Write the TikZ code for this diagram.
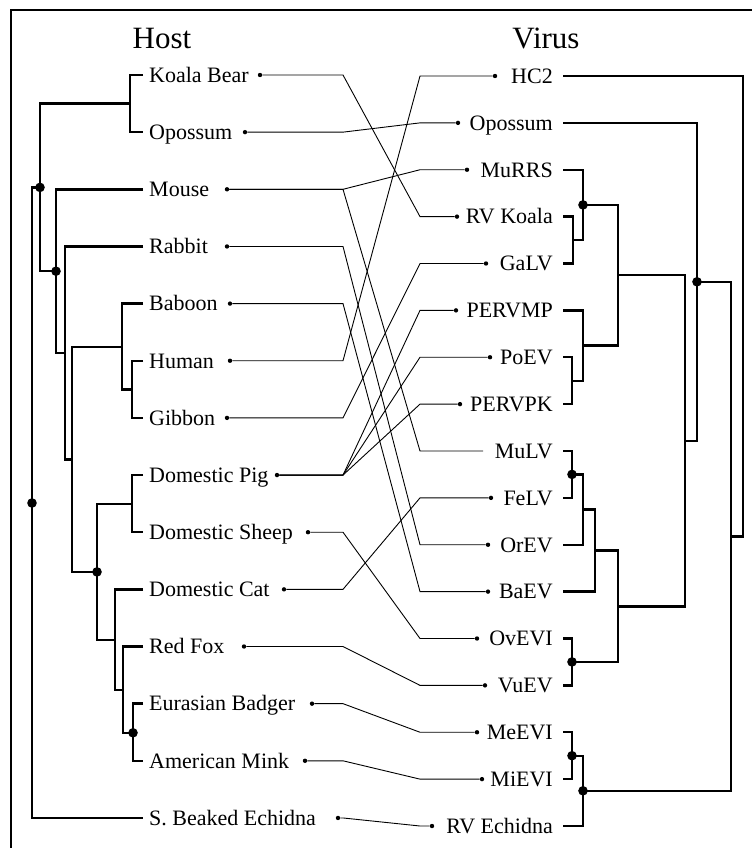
\documentclass[tikz,border=0pt]{standalone}
\usepackage{fontspec}
\setmainfont{Liberation Serif}
\usepackage{tikz}
\tikzset{
  host label/.style={
    anchor=west,
    inner sep=0pt,
    font=\fontsize{22}{26}\selectfont,
    text height=14.6pt,
    text depth=0pt
  },
  virus label/.style={
    anchor=east,
    inner sep=0pt,
    font=\fontsize{22}{26}\selectfont,
    text height=14.6pt,
    text depth=0pt
  },
  column title/.style={
    inner sep=0pt,
    font=\fontsize{31}{36}\selectfont,
    text height=20.4pt,
    text depth=0pt
  },
  branch/.style={
    line width=2.4pt
  },
  link/.style={
    line width=0.9pt
  },
  leaf dot/.style={
    circle,
    fill,
    inner sep=0pt,
    minimum size=4.4pt
  },
  frame line/.style={
    line width=2.2pt
  }
}
\newcommand{\clade}[3]{%
  \draw[branch] (#2) -| (#1) |- (#3);
}
\newcommand{\knot}[1]{%
  \fill (#1) circle[radius=4.8pt];
}

\begin{document}
\begin{tikzpicture}[x=1pt,y=-1pt]
  \useasboundingbox (0,0) rectangle (752,848);
  \draw[frame line] (11,848) -- (11,10) -- (752,10);

  \node[column title] (host title) at (162,38) {Host};
  \node[column title] (virus title) at (546,38) {Virus};

  \foreach \i/\name in {1/Koala Bear,2/Opossum,3/Mouse,4/Rabbit,5/Baboon,
      6/Human,7/Gibbon,8/Domestic Pig,9/Domestic Sheep,10/Domestic Cat,
      11/Red Fox,12/Eurasian Badger,13/American Mink,14/S. Beaked Echidna}{
    \node[host label] (h-\i) at (149,{75+57.15*(\i-1)}) {\name};
    \coordinate (hl-\i) at ([xshift=-6pt]h-\i.west);
  }
  \foreach \j/\name in {1/HC2,2/Opossum,3/MuRRS,4/RV Koala,5/GaLV,6/PERVMP,
      7/PoEV,8/PERVPK,9/MuLV,10/FeLV,11/OrEV,12/BaEV,13/OvEVI,14/VuEV,
      15/MeEVI,16/MiEVI,17/RV Echidna}{
    \node[virus label] (v-\j) at (553,{76+46.875*(\j-1)}) {\name};
    \coordinate (vl-\j) at ([xshift=10pt]v-\j.east);
  }

  \foreach \i/\x in {1/260,2/245,3/227,4/227,5/230,6/230,7/227,8/277,
      9/308,10/284,11/244,12/312,13/305,14/338}{
    \node[leaf dot] (hd-\i) at (\x,{75+57.15*(\i-1)}) {};
  }
  \foreach \j/\x in {1/495,2/458,3/467,4/457,5/486,6/456,7/490,8/460,
      10/491,11/488,12/488,13/477,14/485,15/477,16/482,17/432}{
    \node[leaf dot] (vd-\j) at (\x,{76+46.875*(\j-1)}) {};
  }
  \coordinate (vd-9) at (483,451);

  \coordinate (hx) at (343,0);
  \coordinate (vx) at (420,0);
  \foreach \h/\v in {1/4,2/2,3/3,3/9,4/11,5/12,6/1,7/5,8/6,8/7,8/8,
      9/13,10/10,11/14,12/15,13/16,14/17}{
    \draw[link] (hd-\h) -- (hd-\h -| hx) -- (vd-\v -| vx) -- (vd-\v);
  }

  \coordinate (hA) at (130,103.6);
  \coordinate (hHG) at (132,389.6);
  \coordinate (hP) at (122,346.7);
  \coordinate (hPS) at (132,504);
  \coordinate (hBM) at (133,732.8);
  \coordinate (hFB) at (123,689.9);
  \coordinate (hCF) at (115,639.9);
  \coordinate (hL) at (97,571.9);
  \coordinate (hPL) at (72,459.3);
  \coordinate (hR) at (65,353);
  \coordinate (hM) at (56,271.2);
  \coordinate (hT) at (40,187.4);
  \coordinate (hRoot) at (32,503);

  \clade{hA}{hl-1}{hl-2}
  \clade{hHG}{hl-6}{hl-7}
  \clade{hP}{hl-5}{hHG}
  \clade{hPS}{hl-8}{hl-9}
  \clade{hBM}{hl-12}{hl-13}
  \clade{hFB}{hl-11}{hBM}
  \clade{hCF}{hl-10}{hFB}
  \clade{hL}{hPS}{hCF}
  \clade{hPL}{hP}{hL}
  \clade{hR}{hl-4}{hPL}
  \clade{hM}{hl-3}{hR}
  \clade{hT}{hA}{hM}
  \clade{hRoot}{hT}{hl-14}
  \knot{hBM}
  \knot{hL}
  \knot{hM}
  \knot{hT}
  \knot{hRoot}

  \coordinate (vRG) at (573,240.1);
  \coordinate (vMR) at (583,204.9);
  \coordinate (vPP) at (572,380.7);
  \coordinate (vPM) at (583,345.5);
  \coordinate (vG1) at (618,275.2);
  \coordinate (vMF) at (572,474.4);
  \coordinate (vMO) at (583,509.6);
  \coordinate (vMB) at (595,550.6);
  \coordinate (vOV) at (572,661.9);
  \coordinate (vG2) at (618,606.3);
  \coordinate (vG) at (685,440.7);
  \coordinate (vOG) at (697,281.8);
  \coordinate (vMM) at (572,755.7);
  \coordinate (vME) at (583,790.8);
  \coordinate (vOM) at (731,536.3);
  \coordinate (vRoot) at (743,306);

  \clade{vRG}{vl-4}{vl-5}
  \clade{vMR}{vl-3}{vRG}
  \clade{vPP}{vl-7}{vl-8}
  \clade{vPM}{vl-6}{vPP}
  \clade{vG1}{vMR}{vPM}
  \clade{vMF}{vl-9}{vl-10}
  \clade{vMO}{vMF}{vl-11}
  \clade{vMB}{vMO}{vl-12}
  \clade{vOV}{vl-13}{vl-14}
  \clade{vG2}{vMB}{vOV}
  \clade{vG}{vG1}{vG2}
  \clade{vOG}{vl-2}{vG}
  \clade{vMM}{vl-15}{vl-16}
  \clade{vME}{vMM}{vl-17}
  \clade{vOM}{vOG}{vME}
  \clade{vRoot}{vl-1}{vOM}
  \knot{vMR}
  \knot{vMF}
  \knot{vOV}
  \knot{vOG}
  \knot{vMM}
  \knot{vME}
\end{tikzpicture}
\end{document}
